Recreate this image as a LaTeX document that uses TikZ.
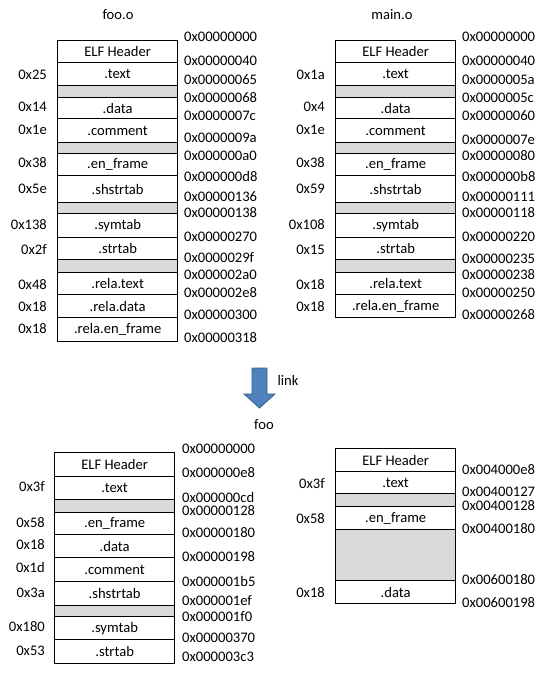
\documentclass[tikz,border=0pt]{standalone}
\usepackage{fontspec}
\setmainfont{Carlito}
\definecolor{padgray}{HTML}{D9D9D9}
\definecolor{arrowfill}{HTML}{4F81BD}
\definecolor{arrowline}{HTML}{385D8A}
\newcommand\secnode[5]{\node[secbox, minimum height={(#4-#3)*1pt}] (#1) at (#2,#3) {#5};}
\newcommand\padnode[4]{\node[padbox, minimum height={(#4-#3)*1pt}] (#1) at (#2,#3) {};}
\newcommand\szlab[4]{\node[szl] (#1) at (#2,#3) {#4};}
\newcommand\adlab[4]{\node[adl] (#1) at (#2,#3) {#4};}
\begin{document}
\begin{tikzpicture}[x=1pt,y=-1pt,
  font=\fontsize{14.6}{16}\selectfont,
  secbox/.style={draw=black, line width=1.3pt, fill=white, minimum width=120pt, inner sep=0pt, anchor=north west},
  padbox/.style={secbox, fill=padgray},
  szl/.style={anchor=east, inner sep=0pt},
  adl/.style={anchor=west, inner sep=0pt},
  ttl/.style={inner sep=0pt}]
\useasboundingbox (0,0) rectangle (544,676);

% ---------- foo.o ----------
\node[ttl] (t1) at (118,15) {foo.o};
\secnode{a1}{57}{40}{62}{ELF Header}
\secnode{a2}{57}{62}{85}{.text}
\padnode{a3}{57}{85}{97}
\secnode{a4}{57}{97}{118}{.data}
\secnode{a5}{57}{118}{142}{.comment}
\padnode{a6}{57}{142}{153}
\secnode{a7}{57}{153}{175}{.en\_frame}
\secnode{a8}{57}{175}{202}{.shstrtab}
\padnode{a9}{57}{202}{213}
\secnode{a10}{57}{213}{237}{.symtab}
\secnode{a11}{57}{237}{259}{.strtab}
\padnode{a12}{57}{259}{272}
\secnode{a13}{57}{272}{294}{.rela.text}
\secnode{a14}{57}{294}{317}{.rela.data}
\secnode{a15}{57}{317}{341}{.rela.en\_frame}

\szlab{as1}{47}{75}{0x25}
\szlab{as2}{47}{107}{0x14}
\szlab{as3}{47}{130}{0x1e}
\szlab{as4}{47}{163}{0x38}
\szlab{as5}{47}{189}{0x5e}
\szlab{as6}{47}{225}{0x138}
\szlab{as7}{47}{250}{0x2f}
\szlab{as8}{47}{285}{0x48}
\szlab{as9}{47}{307}{0x18}
\szlab{as10}{47}{329}{0x18}

\adlab{aa1}{184}{37}{0x00000000}
\adlab{aa2}{184}{61}{0x00000040}
\adlab{aa3}{184}{80}{0x00000065}
\adlab{aa4}{184}{98}{0x00000068}
\adlab{aa5}{184}{116}{0x0000007c}
\adlab{aa6}{184}{138}{0x0000009a}
\adlab{aa7}{184}{156}{0x000000a0}
\adlab{aa8}{184}{176}{0x000000d8}
\adlab{aa9}{184}{197}{0x00000136}
\adlab{aa10}{184}{213}{0x00000138}
\adlab{aa11}{184}{237}{0x00000270}
\adlab{aa12}{184}{258}{0x0000029f}
\adlab{aa13}{184}{275}{0x000002a0}
\adlab{aa14}{184}{293}{0x000002e8}
\adlab{aa15}{184}{315}{0x00000300}
\adlab{aa16}{184}{338}{0x00000318}

% ---------- main.o ----------
\node[ttl] (t2) at (392,15) {main.o};
\secnode{b1}{335}{40}{62}{ELF Header}
\secnode{b2}{335}{62}{85}{.text}
\padnode{b3}{335}{85}{97}
\secnode{b4}{335}{97}{118}{.data}
\secnode{b5}{335}{118}{142}{.comment}
\padnode{b6}{335}{142}{153}
\secnode{b7}{335}{153}{175}{.en\_frame}
\secnode{b8}{335}{175}{202}{.shstrtab}
\padnode{b9}{335}{202}{213}
\secnode{b10}{335}{213}{237}{.symtab}
\secnode{b11}{335}{237}{259}{.strtab}
\padnode{b12}{335}{259}{272}
\secnode{b13}{335}{272}{294}{.rela.text}
\secnode{b14}{335}{294}{317}{.rela.en\_frame}

\szlab{bs1}{325}{75}{0x1a}
\szlab{bs2}{325}{107}{0x4}
\szlab{bs3}{325}{130}{0x1e}
\szlab{bs4}{325}{163}{0x38}
\szlab{bs5}{325}{189}{0x59}
\szlab{bs6}{325}{225}{0x108}
\szlab{bs7}{325}{250}{0x15}
\szlab{bs8}{325}{285}{0x18}
\szlab{bs9}{325}{307}{0x18}

\adlab{ba1}{462}{37}{0x00000000}
\adlab{ba2}{462}{61}{0x00000040}
\adlab{ba3}{462}{80}{0x0000005a}
\adlab{ba4}{462}{98}{0x0000005c}
\adlab{ba5}{462}{116}{0x00000060}
\adlab{ba6}{462}{140}{0x0000007e}
\adlab{ba7}{462}{156}{0x00000080}
\adlab{ba8}{462}{176}{0x000000b8}
\adlab{ba9}{462}{197}{0x00000111}
\adlab{ba10}{462}{213}{0x00000118}
\adlab{ba11}{462}{237}{0x00000220}
\adlab{ba12}{462}{259}{0x00000235}
\adlab{ba13}{462}{275}{0x00000238}
\adlab{ba14}{462}{293}{0x00000250}
\adlab{ba15}{462}{315}{0x00000268}

% ---------- link arrow ----------
\draw[fill=arrowfill, draw=arrowline, line width=0.8pt, line join=miter]
  (252,368) -- (267,368) -- (267,394) -- (275,394) -- (259.5,408) -- (244,394) -- (252,394) -- cycle;
\node[ttl] (lk) at (288,380) {link};
\node[ttl] (t3) at (264,425) {foo};

% ---------- foo (file) ----------
\secnode{c1}{54}{452}{476}{ELF Header}
\secnode{c2}{54}{476}{499}{.text}
\padnode{c3}{54}{499}{512}
\secnode{c4}{54}{512}{534}{.en\_frame}
\secnode{c5}{54}{534}{557}{.data}
\secnode{c6}{54}{557}{581}{.comment}
\secnode{c7}{54}{581}{605}{.shstrtab}
\padnode{c8}{54}{605}{616}
\secnode{c9}{54}{616}{639}{.symtab}
\secnode{c10}{54}{639}{663}{.strtab}

\szlab{cs1}{45}{487}{0x3f}
\szlab{cs2}{45}{523}{0x58}
\szlab{cs3}{45}{545}{0x18}
\szlab{cs4}{45}{567}{0x1d}
\szlab{cs5}{45}{593}{0x3a}
\szlab{cs6}{45}{627}{0x180}
\szlab{cs7}{45}{651}{0x53}

\adlab{ca1}{182}{449}{0x00000000}
\adlab{ca2}{182}{473}{0x000000e8}
\adlab{ca3}{182}{497}{0x000000cd}
\adlab{ca4}{182}{511}{0x00000128}
\adlab{ca5}{182}{533}{0x00000180}
\adlab{ca6}{182}{557}{0x00000198}
\adlab{ca7}{182}{581}{0x000001b5}
\adlab{ca8}{182}{601}{0x000001ef}
\adlab{ca9}{182}{617}{0x000001f0}
\adlab{ca10}{182}{638}{0x00000370}
\adlab{ca11}{182}{657}{0x000003c3}

% ---------- foo (memory) ----------
\secnode{d1}{335}{448}{471}{ELF Header}
\secnode{d2}{335}{471}{493}{.text}
\padnode{d3}{335}{493}{506}
\secnode{d4}{335}{506}{529}{.en\_frame}
\padnode{d5}{335}{529}{580}
\secnode{d6}{335}{580}{603}{.data}

\szlab{ds1}{325}{484}{0x3f}
\szlab{ds2}{325}{519}{0x58}
\szlab{ds3}{325}{593}{0x18}

\adlab{da1}{462}{470}{0x004000e8}
\adlab{da2}{462}{492}{0x00400127}
\adlab{da3}{462}{506}{0x00400128}
\adlab{da4}{462}{529}{0x00400180}
\adlab{da5}{462}{580}{0x00600180}
\adlab{da6}{462}{603}{0x00600198}
\end{tikzpicture}
\end{document}
